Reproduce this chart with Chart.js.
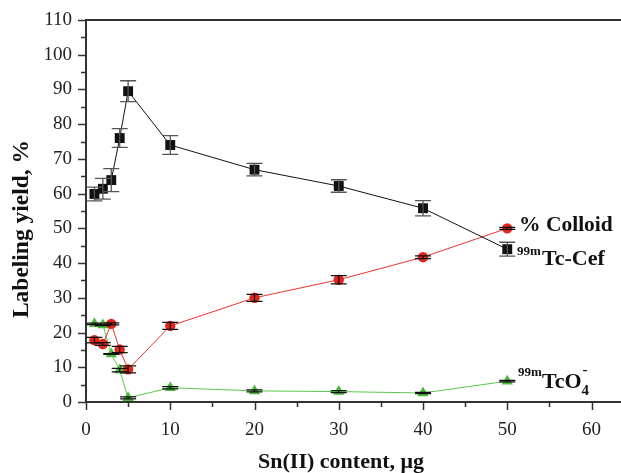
<!DOCTYPE html>
<html>
<head>
<meta charset="utf-8">
<script src="https://cdn.jsdelivr.net/npm/chart.js@4.4.0/dist/chart.umd.min.js"></script>
<style>
  html, body { margin: 0; background: #fff; }
  #wrap { width: 621px; height: 473px; }
</style>
</head>
<body>
<div id="wrap"><canvas id="chart"></canvas></div>
<script>
// Sn(II) content, µg
const tinContent = [1, 2, 3, 4, 5, 10, 20, 30, 40, 50];

// labeling yield, %
const tcCef = [59.9, 61.4, 63.9, 76, 89.5, 74, 66.9, 62.2, 55.8, 44];
const tcCefErr = [2, 3, 3.3, 2.7, 3, 2.7, 1.8, 1.8, 2.2, 2];
const colloid = [17.8, 16.7, 22.5, 15.1, 9.4, 21.9, 30, 35.2, 41.7, 50];
const colloidErr = [0.8, 0.4, 0.3, 0.9, 1, 1, 1, 1.2, 0.4, 0.3];
const pertechnetate = [22.5, 22.2, 13.8, 9.2, 1.2, 4.1, 3.2, 3.0, 2.6, 6.0];
const pertechnetateErr = [0.2, 0.2, 0.1, 0.5, 0.3, 0.3, 0.3, 0.3, 0.2, 0.2];

const xTickLabels = [0, 10, 20, 30, 40, 50, 60];
const yTickLabels = [0, 10, 20, 30, 40, 50, 60, 70, 80, 90, 100, 110];

const serif = "'Liberation Serif', 'DejaVu Serif', serif";

function points(ys) {
  return tinContent.map((x, i) => ({ x: x, y: ys[i] }));
}

// error bars, axis ticks, frame and the labels on the plot
const decorations = {
  id: "decorations",
  afterDatasetsDraw(chart) {
    const { ctx, scales: { x, y } } = chart;
    const errs = [tcCefErr, colloidErr, pertechnetateErr];
    const colors = ["#555", "#111", "#111"];
    ctx.save();
    chart.data.datasets.forEach((ds, di) => {
      ctx.strokeStyle = colors[di];
      ctx.lineWidth = 1.3;
      ds.data.forEach((p, i) => {
        const px = x.getPixelForValue(p.x);
        const top = y.getPixelForValue(p.y + errs[di][i]);
        const bot = y.getPixelForValue(p.y - errs[di][i]);
        ctx.beginPath();
        ctx.moveTo(px, top); ctx.lineTo(px, bot);
        ctx.moveTo(px - 8, top); ctx.lineTo(px + 8, top);
        ctx.moveTo(px - 8, bot); ctx.lineTo(px + 8, bot);
        ctx.stroke();
      });
    });
    ctx.restore();
  },
  afterDraw(chart) {
    const { ctx, chartArea: a, scales: { x, y } } = chart;
    ctx.save();
    ctx.strokeStyle = "#333";
    ctx.lineWidth = 1.5;
    ctx.beginPath();
    for (let v = 0; v <= 110; v += 5) {
      const py = Math.round(y.getPixelForValue(v)) + 0.5;
      const len = v % 10 === 0 ? 8 : 5;
      ctx.moveTo(a.left - len, py); ctx.lineTo(a.left, py);
    }
    for (let v = 0; v <= 60; v += 5) {
      const px = Math.round(x.getPixelForValue(v)) + 0.5;
      const len = v % 10 === 0 ? 8 : 5;
      ctx.moveTo(px, a.bottom); ctx.lineTo(px, a.bottom + len);
    }
    ctx.stroke();
    ctx.lineWidth = 2;
    ctx.beginPath();
    ctx.moveTo(a.left, a.top); ctx.lineTo(a.right, a.top);
    ctx.stroke();

    ctx.fillStyle = "#111";
    ctx.textBaseline = "alphabetic";
    ctx.textAlign = "center";
    ctx.font = "bold 22px " + serif;
    ctx.fillText("Sn(II) content, μg", 341, 468);
    ctx.save();
    ctx.translate(28, 229);
    ctx.rotate(-Math.PI / 2);
    ctx.font = "bold 23.5px " + serif;
    ctx.fillText("Labeling yield, %", 0, 0);
    ctx.restore();

    ctx.textAlign = "left";
    ctx.font = "bold 21.5px " + serif;
    ctx.fillText("% Colloid", 519, 231);
    ctx.font = "bold 13px " + serif;
    ctx.fillText("99m", 517, 255);
    ctx.font = "bold 22px " + serif;
    ctx.fillText("Tc-Cef", 542, 265);
    ctx.font = "bold 13px " + serif;
    ctx.fillText("99m", 518, 376);
    ctx.font = "bold 22px " + serif;
    ctx.fillText("TcO", 542, 388);
    const w = ctx.measureText("TcO").width;
    ctx.font = "bold 15px " + serif;
    ctx.fillText("4", 542 + w, 395);
    ctx.fillText("-", 543 + w, 374);
    ctx.restore();
  }
};

new Chart(document.getElementById("chart"), {
  type: "scatter",
  data: {
    datasets: [
      {
        label: "99mTc-Cef",
        data: points(tcCef),
        showLine: true,
        borderColor: "#111",
        borderWidth: 1,
        backgroundColor: "#111",
        pointStyle: "rect",
        pointRadius: 7,
        pointBorderWidth: 0,
      },
      {
        label: "% Colloid",
        data: points(colloid),
        showLine: true,
        borderColor: "#e8352b",
        borderWidth: 1,
        backgroundColor: "#e0261b",
        pointStyle: "circle",
        pointRadius: 5.2,
        pointBorderWidth: 0,
      },
      {
        label: "99mTcO4-",
        data: points(pertechnetate),
        showLine: true,
        borderColor: "#5cc94c",
        borderWidth: 1,
        backgroundColor: "#4cbb3c",
        pointStyle: "triangle",
        pointRadius: 6.5,
        pointBorderWidth: 0,
      },
    ],
  },
  options: {
    responsive: true,
    maintainAspectRatio: false,
    animation: false,
    layout: { autoPadding: false, padding: { top: 20, right: 0, left: 0, bottom: 0 } },
    plugins: {
      legend: { display: false },
      tooltip: { enabled: false },
    },
    scales: {
      x: {
        type: "linear",
        min: 0,
        max: 63.5,
        afterFit: (s) => { s.height = 71; s.paddingLeft = 0; s.paddingRight = 0; },
        grid: { display: false, drawTicks: false },
        border: { display: true, color: "#333", width: 2 },
        ticks: {
          stepSize: 10,
          includeBounds: false,
          autoSkip: false,
          maxRotation: 0,
          padding: 17,
          color: "#222",
          font: { family: serif, size: 19 },
          callback: (v) => (xTickLabels.includes(v) ? v : ""),
        },
      },
      y: {
        min: 0,
        max: 110,
        afterFit: (s) => { s.width = 86; s.paddingTop = 0; s.paddingBottom = 0; },
        grid: { display: false, drawTicks: false },
        border: { display: true, color: "#333", width: 2 },
        ticks: {
          stepSize: 10,
          autoSkip: false,
          padding: 14,
          color: "#222",
          font: { family: serif, size: 19 },
          callback: (v) => (yTickLabels.includes(v) ? v : ""),
        },
      },
    },
  },
  plugins: [decorations],
});
</script>
</body>
</html>
